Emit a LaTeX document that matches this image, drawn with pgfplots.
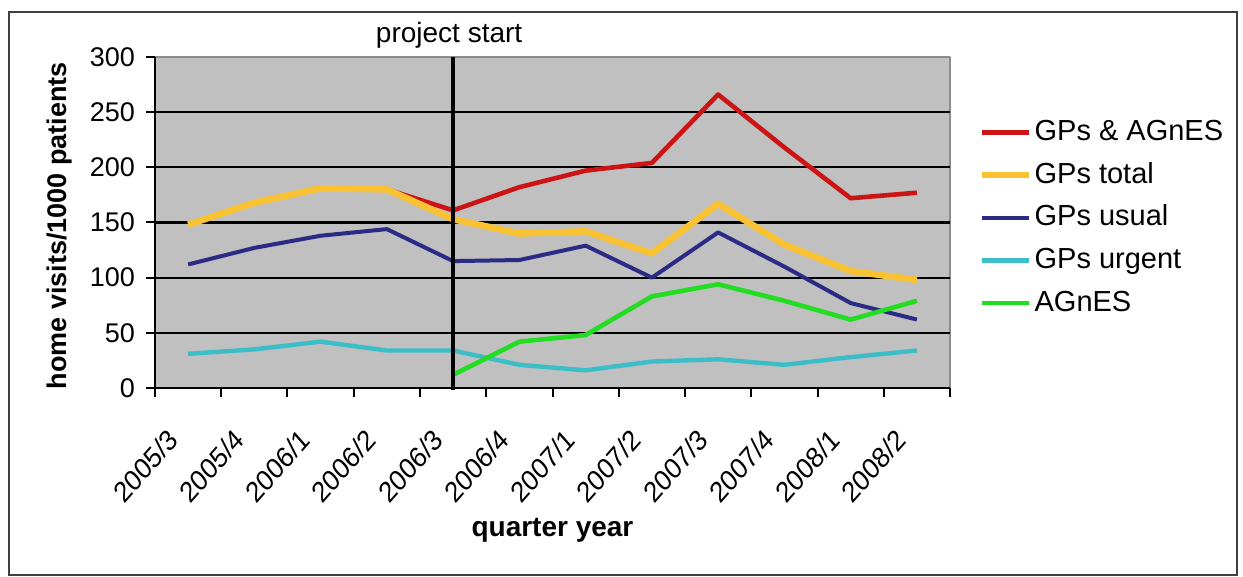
\documentclass[border=0pt]{standalone}
\usepackage{fontspec}
\setmainfont{Liberation Sans}
\usepackage{pgfplots}
\pgfplotsset{compat=1.18}

\definecolor{plotgray}{HTML}{C0C0C0}
\definecolor{cred}{HTML}{CC1414}
\definecolor{cyellow}{HTML}{F8C232}
\definecolor{cnavy}{HTML}{2B2B85}
\definecolor{ccyan}{HTML}{3CBEC8}
\definecolor{cgreen}{HTML}{22DD22}

\begin{document}
\begin{tikzpicture}
\useasboundingbox (-77.5pt,-94.5pt) rectangle (544pt,194pt);
\draw[black!75, line width=0.8pt] (-73pt,188pt) rectangle (541pt,-93.5pt);
\begin{axis}[
    at={(0,0)}, anchor=south west,
    scale only axis,
    width=397.5pt, height=165.5pt,
    clip=false,
    axis lines*=left,
    axis line style={black, line width=1pt},
    axis background/.style={fill=plotgray, draw=black!45, line width=0.8pt},
    xmin=-0.5, xmax=11.5,
    ymin=0, ymax=300,
    xtick={-0.5,0.5,...,11.5},
    x tick label as interval,
    xticklabels={2005/3,2005/4,2006/1,2006/2,2006/3,2006/4,2007/1,2007/2,2007/3,2007/4,2008/1,2008/2},
    ytick={0,50,...,250},
    extra y ticks={300},
    extra y tick style={grid=none},
    ymajorgrids=true,
    grid style={black, line width=1.1pt},
    tick align=outside,
    major tick length=4.5pt,
    tick style={black, line width=1pt},
    /pgf/number format/assume math mode=true,
    yticklabel style={font=\fontsize{13.5}{16}\selectfont, xshift=-2pt},
    xticklabel style={font=\fontsize{14.5}{17}\selectfont, xshift=-11pt, yshift=-2pt, xscale=0.88, rotate=45, anchor=north east},
    xticklabel shift=8pt,
    xlabel={\textbf{quarter year}},
    ylabel={\textbf{home visits/1000 patients}},
    xlabel style={font=\fontsize{14}{16}\selectfont, at={(axis description cs:0.5,-0.43)}, anchor=center},
    ylabel style={font=\fontsize{13.5}{16}\selectfont, at={(axis description cs:-0.1195,0.49)}, anchor=center},
    legend style={draw=none, fill=none, at={(1.036,0.822)}, anchor=north west,
        font=\fontsize{14.5}{17}\selectfont, row sep=5.35pt, inner sep=0pt,
        nodes={inner sep=1pt, text height=11pt, text depth=3pt}},
    legend cell align=left,
    legend image code/.code={\draw[#1] (0pt,0pt) -- (23.5pt,0pt);},
    line join=round,
]

\addplot[cred, line width=2.3pt] coordinates {
    (3,180)(4,161)(5,182)(6,197)(7,204)(8,266)(9,218)(10,172)(11,177)};
\addlegendentry{GPs \& AGnES}

\addplot[cyellow, line width=3.3pt] coordinates {
    (0,148)(1,168)(2,181)(3,180)(4,153)(5,140)(6,142)(7,122)(8,167)(9,130)(10,106)(11,98)};
\addlegendentry{GPs total}

\addplot[cnavy, line width=2pt] coordinates {
    (0,112)(1,127)(2,138)(3,144)(4,115)(5,116)(6,129)(7,100)(8,141)(9,110)(10,77)(11,62)};
\addlegendentry{GPs usual}

\addplot[ccyan, line width=2.2pt] coordinates {
    (0,31)(1,35)(2,42)(3,34)(4,34)(5,21)(6,16)(7,24)(8,26)(9,21)(10,28)(11,34)};
\addlegendentry{GPs urgent}

\addplot[cgreen, line width=2.3pt] coordinates {
    (4,12)(5,42)(6,48)(7,83)(8,94)(9,79)(10,62)(11,79)};
\addlegendentry{AGnES}

% project start marker
\addplot[black, line width=2pt, forget plot] coordinates {(4,-2)(4,300)};
\node[font=\fontsize{14}{16}\selectfont, anchor=center] at (axis cs:4,300) [xshift=-2pt, yshift=11pt] {project start};

\end{axis}
\end{tikzpicture}
\end{document}
